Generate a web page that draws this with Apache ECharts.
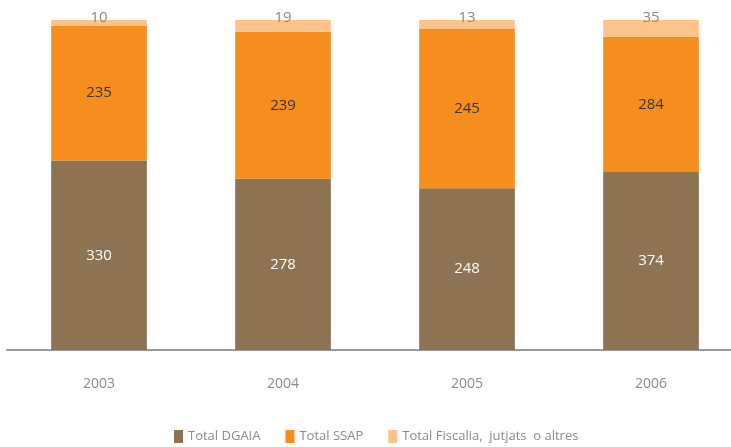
<!DOCTYPE html>
<html>
<head>
<meta charset="utf-8">
<script src="https://cdn.jsdelivr.net/npm/echarts@6/dist/echarts.min.js"></script>
<style>
  html, body { margin: 0; padding: 0; background: #fff; }
  #container { width: 731px; height: 447px; }
</style>
</head>
<body>
<div id="container"></div>
<script type="text/javascript">
    var years = ['2003', '2004', '2005', '2006'];
    var dgaia = [330, 278, 248, 374];
    var ssap = [235, 239, 245, 284];
    var fiscalia = [10, 19, 13, 35];

    var font = '"Open Sans", sans-serif';

    // percentatge de cada any (barres al 100%)
    function pct(arr) {
        var out = [];
        for (var i = 0; i < arr.length; i++) {
            var tot = dgaia[i] + ssap[i] + fiscalia[i];
            out.push({ value: arr[i] / tot * 100, raw: arr[i] });
        }
        return out;
    }

    function rawLabel(p) { return p.data.raw; }

    var mychart = echarts.init(document.getElementById('container'));
    var options = {
        animation: false,
        grid: { left: 7, top: 20, width: 736, height: 330, outerBoundsMode: 'none' },
        legend: {
            top: 425,
            left: 169,
            itemWidth: 9,
            itemHeight: 13,
            itemGap: 25,
            icon: 'rect',
            textStyle: { color: '#8a8a8a', fontSize: 13, fontFamily: font },
            data: ['Total DGAIA', 'Total SSAP', 'Total Fiscalia,  jutjats  o altres']
        },
        xAxis: {
            type: 'category',
            data: years,
            axisLine: { lineStyle: { color: '#999', width: 2 } },
            axisTick: { show: false },
            axisLabel: { color: '#8a8a8a', fontSize: 14, fontFamily: font, margin: 27 }
        },
        yAxis: {
            type: 'value', min: 0, max: 100,
            show: false
        },
        series: [
            {
                name: 'Total DGAIA', type: 'bar', stack: 't', barWidth: '52%',
                itemStyle: { color: '#8d7351' },
                label: { show: true, formatter: rawLabel, color: '#fff', fontSize: 15, fontFamily: font },
                data: pct(dgaia)
            },
            {
                name: 'Total SSAP', type: 'bar', stack: 't',
                itemStyle: { color: '#f68e1f' },
                label: { show: true, formatter: rawLabel, color: '#333', fontSize: 15, fontFamily: font },
                data: pct(ssap)
            },
            {
                name: 'Total Fiscalia,  jutjats  o altres', type: 'bar', stack: 't',
                itemStyle: { color: '#fdc38a' },
                label: { show: true, position: 'top', distance: -5, formatter: rawLabel, color: '#8a8a8a', fontSize: 15, fontFamily: font },
                data: pct(fiscalia)
            }
        ]
    };
    mychart.setOption(options);
</script>
</body>
</html>
